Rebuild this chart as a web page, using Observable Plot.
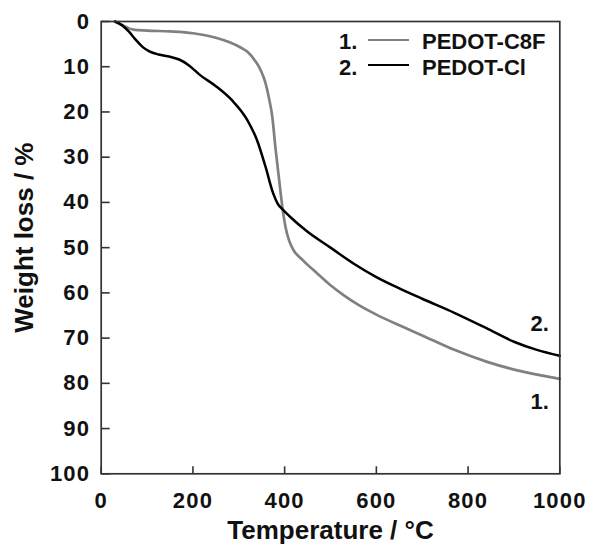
<!DOCTYPE html>
<html>
<head>
<meta charset="utf-8">
<script src="https://cdn.jsdelivr.net/npm/d3@7"></script>
<script src="https://cdn.jsdelivr.net/npm/@observablehq/plot@0.6"></script>
<style>
  html, body { margin: 0; padding: 0; background: #fff; }
  #wrap { position: relative; width: 589px; height: 545px; font-family: "Liberation Sans", Arial, sans-serif; font-weight: bold; }
  .leg { position: absolute; font-size: 22px; color: #111; line-height: 1; white-space: nowrap; }
  .legline { position: absolute; height: 0; border-top-style: solid; }
  g[aria-label="y-axis tick label"] text, g[aria-label="x-axis tick label"] text { letter-spacing: 1.2px; }
</style>
</head>
<body>
<div id="wrap"></div>
<script>
// Temperature (°C) and weight loss (%)
const c8fTemp = [30, 50, 70, 100, 150, 200, 250, 280, 305, 320, 335, 348, 358, 366, 373, 380, 388, 395, 402, 410, 418, 440, 470, 500, 530, 560, 600, 660, 700, 770, 840, 910, 1000];
const c8fLoss = [0, 1.0, 1.8, 2.0, 2.2, 2.6, 3.6, 4.6, 5.8, 6.8, 8.6, 10.8, 13.5, 17, 21, 28, 35, 41, 45.5, 48.5, 50.3, 52.8, 55.6, 58.3, 60.6, 62.6, 64.8, 67.6, 69.4, 72.6, 75.2, 77.2, 79];

const clTemp = [30, 45, 60, 75, 90, 105, 125, 150, 170, 190, 215, 250, 285, 318, 340, 358, 375, 385, 395, 410, 450, 500, 550, 600, 650, 700, 770, 840, 900, 950, 1000];
const clLoss = [0, 0.8, 2.2, 4.0, 5.6, 6.6, 7.3, 7.8, 8.4, 9.6, 11.8, 14.3, 17.4, 21.7, 26.3, 32, 38, 40.3, 41.5, 43, 46.5, 50, 53.5, 56.5, 59, 61.3, 64.4, 67.8, 70.8, 72.6, 73.9];

const seriesNames = ["PEDOT-C8F", "PEDOT-Cl"];
const seriesTags = ["1.", "2."];
const seriesColors = ["#808080", "#000000"];

const xTicks = [0, 200, 400, 600, 800, 1000];
const yTicks = [0, 10, 20, 30, 40, 50, 60, 70, 80, 90, 100];

const c8f = c8fTemp.map((t, i) => ({t, w: c8fLoss[i]}));
const cl = clTemp.map((t, i) => ({t, w: clLoss[i]}));
const yTickRows = yTicks.map(v => ({v}));
const xTickRows = xTicks.map(v => ({v}));

const font = "Liberation Sans, Arial, sans-serif";
const W = 589, H = 545, ML = 100.7, MR = 29.7, MT = 21, MB = 71.7;
const plotW = W - ML - MR, plotH = H - MT - MB;
const xDom = [0, 1000], yDom = [0, 100];
// inward tick lengths (px) expressed in data units
const yTickLen = 8.5 * (xDom[1] - xDom[0]) / plotW;
const xTickLen = 7.5 * (yDom[1] - yDom[0]) / plotH;

const chart = Plot.plot({
  width: W,
  height: H,
  marginLeft: ML,
  marginRight: MR,
  marginTop: MT,
  marginBottom: MB,
  style: {fontFamily: font, fontWeight: "bold", color: "#111", background: "#fff"},
  x: {domain: xDom},
  y: {domain: yDom, reverse: true},
  marks: [
    Plot.line(c8f, {x: "t", y: "w", stroke: seriesColors[0], strokeWidth: 2.7, curve: "monotone-x"}),
    Plot.line(cl, {x: "t", y: "w", stroke: seriesColors[1], strokeWidth: 2.5, curve: "monotone-x"}),
    Plot.link(yTickRows, {x1: () => xDom[0], x2: () => xDom[0] + yTickLen, y1: "v", y2: "v", stroke: "#333", strokeWidth: 1.6}),
    Plot.link(xTickRows, {x1: "v", x2: "v", y1: () => yDom[1], y2: () => yDom[1] - xTickLen, stroke: "#333", strokeWidth: 1.6}),
    Plot.frame({stroke: "#333", strokeWidth: 1.7}),
    Plot.axisY(yTicks, {tickSize: 0, tickPadding: 11, fontSize: 22, label: null, tickFormat: d => String(d), fill: "#111"}),
    Plot.axisX(xTicks, {tickSize: 0, tickPadding: 19, fontSize: 22, label: null, tickFormat: d => String(d), fill: "#111"}),
    Plot.text(["Temperature / °C"], {frameAnchor: "bottom", lineAnchor: "middle", textAnchor: "middle", dy: 57, fontSize: 26, fontWeight: "bold", fill: "#111"}),
    Plot.text(["Weight loss / %"], {frameAnchor: "left", textAnchor: "middle", lineAnchor: "middle", rotate: -90, dx: -76.5, dy: -10, fontSize: 26, fontWeight: "bold", fill: "#111"}),
    Plot.text([c8f[c8f.length - 1]], {x: "t", y: "w", text: () => seriesTags[0], textAnchor: "end", lineAnchor: "middle", dx: -11, dy: 23, fontSize: 22, fontWeight: "bold", fill: "#111"}),
    Plot.text([cl[cl.length - 1]], {x: "t", y: "w", text: () => seriesTags[1], textAnchor: "end", lineAnchor: "middle", dx: -11, dy: -32, fontSize: 22, fontWeight: "bold", fill: "#111"})
  ]
});

const wrap = document.getElementById("wrap");
wrap.appendChild(chart);

// Legend overlay
const textCenters = [41, 67];
const lineYs = [40, 65];
seriesNames.forEach((name, i) => {
  const tag = document.createElement("div");
  tag.className = "leg";
  tag.textContent = seriesTags[i];
  tag.style.left = "339px";
  tag.style.top = (textCenters[i] - 10.5) + "px";
  wrap.appendChild(tag);
  const ln = document.createElement("div");
  ln.className = "legline";
  ln.style.left = "368px";
  ln.style.width = "41px";
  ln.style.top = (lineYs[i] - 1.2) + "px";
  ln.style.borderTopWidth = "2.4px";
  ln.style.borderTopColor = seriesColors[i];
  wrap.appendChild(ln);
  const lab = document.createElement("div");
  lab.className = "leg";
  lab.textContent = name;
  lab.style.left = "422px";
  lab.style.top = (textCenters[i] - 10.5) + "px";
  wrap.appendChild(lab);
});
</script>
</body>
</html>
